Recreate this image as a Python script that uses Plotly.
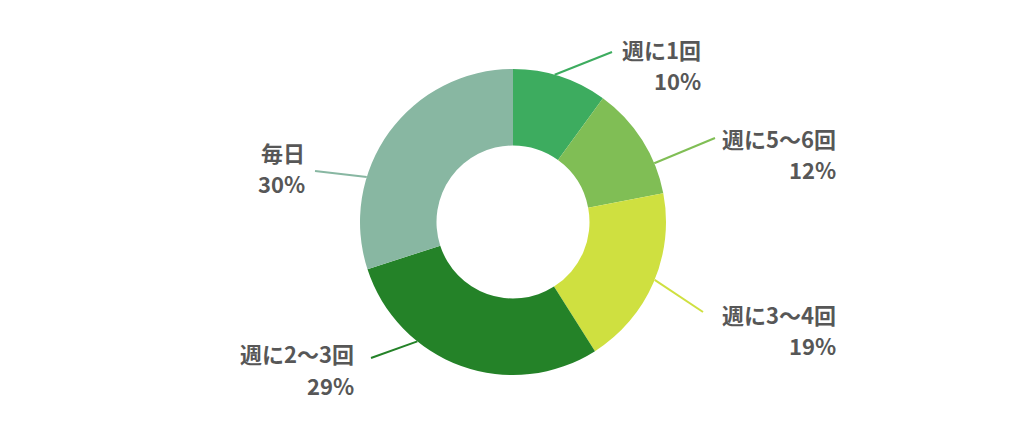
import math
import plotly.graph_objects as go

# data (clockwise from 12 o'clock)
labels = ["週に1回", "週に5〜6回", "週に3〜4回", "週に2〜3回", "毎日"]
values = [10, 12, 19, 29, 30]
colors = ["#3dac5f", "#80be55", "#cfe040", "#248228", "#88b7a2"]

W, H = 1024, 427
CX, CY, R = 513, 222, 153  # donut centre / radius in pixels

# label layout: angle where the leader line leaves the ring (deg from top),
# line end point, right edge of the text block, y of the two text lines
line_angle = [15.8, 67.4, 112.2, 218.7, 287.1]
line_end = [(612, 52), (715, 138), (703, 312), (371, 358), (315, 171)]
text_right = [703, 838, 838, 356, 307]
text_y = [(49, 80), (138, 169), (314, 345), (353, 385), (152, 183)]


def px(x, y):
    return x / W, 1 - y / H


fig = go.Figure(go.Pie(
    labels=labels,
    values=values,
    hole=0.5,
    sort=False,
    direction="clockwise",
    rotation=0,
    marker=dict(colors=colors, line=dict(width=0)),
    textinfo="none",
    hoverinfo="label+percent",
    domain=dict(x=[(CX - R) / W, (CX + R) / W],
                y=[1 - (CY + R) / H, 1 - (CY - R) / H]),
    showlegend=False,
))

total = sum(values)
shapes = []
annotations = []
font = dict(family="Noto Sans CJK JP", size=22, color="#575757")
for i, name in enumerate(labels):
    a = math.radians(line_angle[i])
    sx, sy = CX + R * math.sin(a), CY - R * math.cos(a)
    x0, y0 = px(sx, sy)
    x1, y1 = px(*line_end[i])
    shapes.append(dict(type="line", xref="paper", yref="paper",
                       x0=x0, y0=y0, x1=x1, y1=y1,
                       line=dict(color=colors[i], width=2), layer="below"))
    pct = f"{round(values[i] / total * 100)}%"
    for txt, ty in zip([name, pct], text_y[i]):
        ax, ay = px(text_right[i], ty)
        annotations.append(dict(text=f"<b>{txt}</b>", x=ax, y=ay,
                                xref="paper", yref="paper",
                                xanchor="right", yanchor="middle",
                                showarrow=False, font=font))

fig.update_layout(
    width=W, height=H,
    margin=dict(l=0, r=0, t=0, b=0),
    paper_bgcolor="white",
    plot_bgcolor="white",
    shapes=shapes,
    annotations=annotations,
)

# drop the default 8px page margin so the figure sits at 0,0
fig.write_html("out.html", config={"displayModeBar": False},
               post_script="document.body.style.margin='0';")
